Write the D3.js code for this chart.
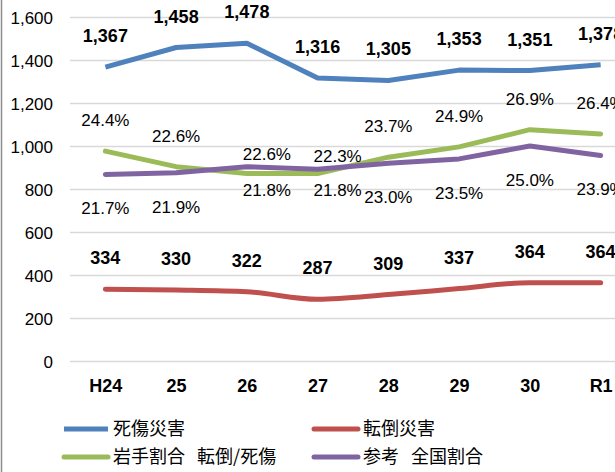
<!DOCTYPE html>
<html>
<head>
<meta charset="utf-8">
<script src="https://cdn.jsdelivr.net/npm/d3@7"></script>
<style>
  body { margin: 0; background: #fff; }
  svg { display: block; font-family: "Liberation Sans", Arial, sans-serif; }
  .jp { font-family: "Noto Sans CJK JP", "Liberation Sans", sans-serif; white-space: pre; }
</style>
</head>
<body>
<svg width="615" height="472"></svg>
<script>
// chart data
var years = ["H24", "25", "26", "27", "28", "29", "30", "R1"];
var casualties = [1367, 1458, 1478, 1316, 1305, 1353, 1351, 1378];   // 死傷災害
var falls = [334, 330, 322, 287, 309, 337, 364, 364];                 // 転倒災害
var iwateRatio = [24.4, 22.6, 21.8, 21.8, 23.7, 24.9, 26.9, 26.4];    // 岩手割合 転倒/死傷 (%)
var nationalRatio = [21.7, 21.9, 22.6, 22.3, 23.0, 23.5, 25.0, 23.9]; // 参考 全国割合 (%)
var yTicks = [0, 200, 400, 600, 800, 1000, 1200, 1400, 1600];

// where each percent label sits relative to its point
var iwateLabelPos = ["t", "t", "br", "br", "t", "t", "t", "t"];
var nationalLabelPos = ["b", "b", "tr", "tr", "b", "b", "b", "b"];

var svg = d3.select("svg");

var x = d3.scalePoint()
  .domain(years)
  .range([70, 636])
  .padding(0.5);

var y = d3.scaleLinear()
  .domain([0, 1600])
  .range([361, 17]);

// hidden secondary axis for the ratios
var y2 = d3.scaleLinear()
  .domain([0, 40])
  .range([361, 17]);

// chart border on the left
svg.append("line")
  .attr("x1", 1.5).attr("x2", 1.5)
  .attr("y1", 0).attr("y2", 472)
  .attr("stroke", "#8c8c8c")
  .attr("stroke-width", 1.5);

// grid + y axis
var yAxis = svg.append("g")
  .attr("transform", "translate(70,0)")
  .call(d3.axisLeft(y).tickValues(yTicks).tickSize(-600).tickFormat(d3.format(",")));
yAxis.select(".domain").remove();
yAxis.selectAll(".tick line")
  .attr("stroke", "#d9d9d9")
  .attr("stroke-width", 1.5);
yAxis.selectAll(".tick text")
  .attr("x", -17)
  .attr("dy", "0.36em")
  .attr("fill", "#000")
  .attr("font-size", "17px")
  .attr("font-family", "Liberation Sans, Arial, sans-serif");

// x axis labels
var xAxis = svg.append("g")
  .attr("transform", "translate(0,361)")
  .call(d3.axisBottom(x).tickSize(0));
xAxis.select(".domain").remove();
xAxis.selectAll(".tick text")
  .attr("y", 31)
  .attr("dy", 0)
  .attr("fill", "#000")
  .attr("font-size", "18px")
  .attr("font-weight", "bold")
  .attr("font-family", "Liberation Sans, Arial, sans-serif");

var series = [
  { name: "死傷災害", values: casualties, scale: y, color: "#4f81bd", cap: "butt" },
  { name: "転倒災害", values: falls, scale: y, color: "#c0504d", cap: "round", smooth: true },
  { name: "岩手割合\u00a0\u00a0\u00a0転倒/死傷", values: iwateRatio, scale: y2, color: "#9bbb59", cap: "round" },
  { name: "参考\u00a0\u00a0\u00a0全国割合", values: nationalRatio, scale: y2, color: "#8064a2", cap: "round" }
];

series.forEach(function(s) {
  var line = d3.line()
    .x(function(d, i) { return x(years[i]); })
    .y(function(d) { return s.scale(d); })
    .curve(s.smooth ? d3.curveMonotoneX : d3.curveLinear);
  svg.append("path")
    .datum(s.values)
    .attr("fill", "none")
    .attr("stroke", s.color)
    .attr("stroke-width", 5)
    .attr("stroke-linecap", s.cap)
    .attr("stroke-linejoin", "round")
    .attr("d", line);
});

// count labels (bold, above)
[casualties, falls].forEach(function(vals) {
  svg.append("g").selectAll("text")
    .data(vals)
    .enter().append("text")
      .attr("x", function(d, i) { return x(years[i]); })
      .attr("y", function(d) { return y(d) - 25; })
      .attr("text-anchor", "middle")
      .attr("font-size", "18px")
      .attr("font-weight", "bold")
      .attr("fill", "#000")
      .text(d3.format(","));
});

// ratio labels
var offsets = {
  green: { t: [0, -25], br: [20, 22] },
  purple: { b: [0, 40], tr: [20, -7] }
};
function ratioLabels(vals, pos, off) {
  svg.append("g").selectAll("text")
    .data(vals)
    .enter().append("text")
      .attr("x", function(d, i) { return x(years[i]) + off[pos[i]][0]; })
      .attr("y", function(d, i) { return y2(d) + off[pos[i]][1]; })
      .attr("text-anchor", "middle")
      .attr("font-size", "17px")
      .attr("fill", "#000")
      .text(function(d) { return d.toFixed(1) + "%"; });
}
ratioLabels(iwateRatio, iwateLabelPos, offsets.green);
ratioLabels(nationalRatio, nationalLabelPos, offsets.purple);

// legend
var legend = svg.append("g");
var legendCols = [62, 312], legendRows = [429, 457];
series.forEach(function(s, i) {
  var lx = legendCols[i % 2], ly = legendRows[Math.floor(i / 2)];
  legend.append("line")
    .attr("x1", lx + 2).attr("x2", lx + 46)
    .attr("y1", ly).attr("y2", ly)
    .attr("stroke", s.color)
    .attr("stroke-width", 5)
    .attr("stroke-linecap", s.cap);
  legend.append("text")
    .attr("class", "jp")
    .attr("x", lx + 51)
    .attr("y", ly)
    .attr("dy", "0.36em")
    .attr("font-size", "18px")
    .attr("fill", "#000")
    .text(s.name);
});
</script>
</body>
</html>
